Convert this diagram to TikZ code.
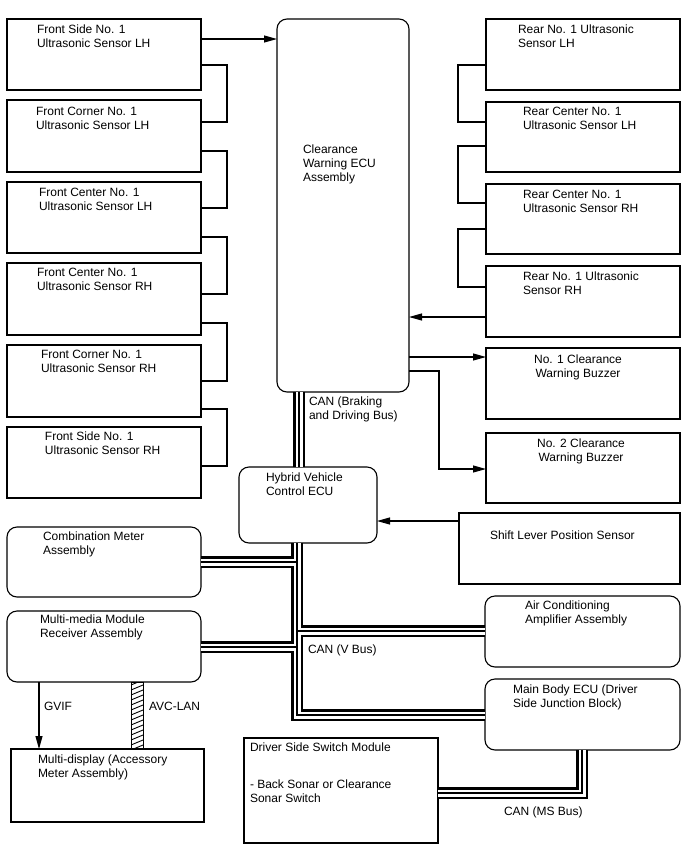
\documentclass[tikz,border=0pt]{standalone}
\usepackage{fontspec}
\setmainfont{Liberation Sans}
\usetikzlibrary{arrows.meta,calc}
\newcommand\mkbox[6]{%
  \node[#6, minimum width={#4pt-#2pt}, minimum height={#5pt-#3pt}] (#1) at ({(#2+#4)/2},{(#3+#5)/2}) {};}
\tikzset{
  sq/.style={draw, line width=1.1pt, inner sep=0pt, outer sep=0pt, rectangle},
  rd/.style={sq, rounded corners=10pt},
  txt/.style={anchor=north west, inner sep=0pt, outer sep=0pt, align=left, font=\fontsize{12}{14}\selectfont},
  ctxt/.style={anchor=north, inner sep=0pt, outer sep=0pt, align=center, font=\fontsize{12}{14}\selectfont},
  ln/.style={line width=1.1pt},
  arr/.style={line width=1.1pt, -{Triangle[length=13pt,width=7pt]}},
  busA/.style={line width=12pt, black, line join=miter},
  busB/.style={line width=7pt, white, line join=miter},
  busC/.style={line width=1.3pt, black, line join=miter},
}
\begin{document}
\begin{tikzpicture}[x=1pt,y=-1pt]
\fill[white] (0,0) rectangle (688,852);
\useasboundingbox (0,0) rectangle (688,852);

% left sensors
\mkbox{L1}{7}{19}{201}{90}{sq}
\mkbox{L2}{7}{100}{201}{172}{sq}
\mkbox{L3}{7}{182}{201}{253}{sq}
\mkbox{L4}{7}{263}{201}{335}{sq}
\mkbox{L5}{7}{345}{201}{417}{sq}
\mkbox{L6}{7}{427}{201}{498}{sq}
\node[txt] (L1t) at (37,25) {Front Side No. 1\\Ultrasonic Sensor LH};
\node[txt] (L2t) at (36,107) {Front Corner No. 1\\Ultrasonic Sensor LH};
\node[txt] (L3t) at (39,188) {Front Center No. 1\\Ultrasonic Sensor LH};
\node[txt] (L4t) at (37,268) {Front Center No. 1\\Ultrasonic Sensor RH};
\node[txt] (L5t) at (41,350) {Front Corner No. 1\\Ultrasonic Sensor RH};
\node[txt] (L6t) at (45,432) {Front Side No. 1\\Ultrasonic Sensor RH};

% right sensors / buzzers
\mkbox{R1}{486}{19}{680}{90}{sq}
\mkbox{R2}{486}{102}{680}{172}{sq}
\mkbox{R3}{486}{184}{680}{254}{sq}
\mkbox{R4}{486}{266}{680}{337}{sq}
\mkbox{B1}{486}{348}{680}{419}{sq}
\mkbox{B2}{486}{433}{680}{503}{sq}
\node[txt] (R1t) at (518,25) {Rear No. 1 Ultrasonic\\Sensor LH};
\node[txt] (R2t) at (523,107) {Rear Center No. 1\\Ultrasonic Sensor LH};
\node[txt] (R3t) at (523,190) {Rear Center No. 1\\Ultrasonic Sensor RH};
\node[txt] (R4t) at (523,272) {Rear No. 1 Ultrasonic\\Sensor RH};
\node[ctxt] (B1t) at (578,355) {No. 1 Clearance\\Warning Buzzer};
\node[ctxt] (B2t) at (581,439) {No. 2 Clearance\\Warning Buzzer};

% ECUs
\mkbox{ECU}{277}{19}{409}{392}{rd}
\node[txt] (ECUt) at (303,145) {Clearance\\Warning ECU\\Assembly};
\mkbox{Hyb}{239}{467}{377}{543}{rd}
\node[txt] (Hybt) at (266,473) {Hybrid Vehicle\\Control ECU};
\mkbox{Shift}{459}{513}{680}{584}{sq}
\node[txt] (Shiftt) at (490,531) {Shift Lever Position Sensor};
\mkbox{Comb}{7}{527}{201}{597}{rd}
\node[txt] (Combt) at (43,532) {Combination Meter\\Assembly};
\mkbox{MM}{7}{611}{201}{682}{rd}
\node[txt] (MMt) at (40,615) {Multi-media Module\\Receiver Assembly};
\mkbox{AC}{485}{596}{680}{667}{rd}
\node[txt] (ACt) at (525,601) {Air Conditioning\\Amplifier Assembly};
\mkbox{MB}{485}{679}{680}{750}{rd}
\node[txt] (MBt) at (513,685) {Main Body ECU (Driver\\Side Junction Block)};
\mkbox{MD}{11}{749}{204}{822}{sq}
\node[txt] (MDt) at (38,755) {Multi-display (Accessory\\Meter Assembly)};
\mkbox{DS}{244}{738}{438}{843}{sq}
\node[txt] (DSt) at (250,743) {Driver Side Switch Module\\[23pt]- Back Sonar or Clearance\\Sonar Switch};

% sensor chains
\draw[ln] (L1.east |- 0,65) -- (227,65) -- (227,122) -- (L2.east |- 0,122);
\draw[ln] (L2.east |- 0,151) -- (227,151) -- (227,208) -- (L3.east |- 0,208);
\draw[ln] (L3.east |- 0,237) -- (227,237) -- (227,294) -- (L4.east |- 0,294);
\draw[ln] (L4.east |- 0,323) -- (227,323) -- (227,381) -- (L5.east |- 0,381);
\draw[ln] (L5.east |- 0,409) -- (227,409) -- (227,466) -- (L6.east |- 0,466);
\draw[arr] (L1.east |- 0,39) -- (ECU.west |- 0,39);

\draw[ln] (R1.west |- 0,65) -- (458,65) -- (458,122) -- (R2.west |- 0,122);
\draw[ln] (R2.west |- 0,146) -- (458,146) -- (458,203) -- (R3.west |- 0,203);
\draw[ln] (R3.west |- 0,229) -- (458,229) -- (458,287) -- (R4.west |- 0,287);
\draw[arr] (R4.west |- 0,317) -- (ECU.east |- 0,317);
\draw[arr] (ECU.east |- 0,357) -- (B1.west |- 0,357);
\draw[arr] (ECU.east |- 0,371) -- (439,371) -- (439,469) -- (B2.west |- 0,469);
\draw[arr] (Shift.west |- 0,521) -- (Hyb.east |- 0,521);

% buses
\foreach \s in {busA,busB,busC}{
  \draw[\s] (ECU.south -| 299,0) -- (Hyb.north -| 299,0);
  \draw[\s] (Hyb.south -| 297,0) -- (297,715) -- (MB.west |- 0,715);
  \draw[\s] (297,562) -- (Comb.east |- 0,562);
  \draw[\s] (297,647) -- (MM.east |- 0,647);
  \draw[\s] (297,631) -- (AC.west |- 0,631);
  \draw[\s] (MB.south -| 582,0) -- (582,793) -- (DS.east |- 0,793);
}
\node[txt] (canbd) at (309,397) {CAN (Braking\\and Driving Bus)};
\node[txt] (canv) at (308,645) {CAN (V Bus)};
\node[txt] (canms) at (504,807) {CAN (MS Bus)};

% GVIF and AVC-LAN
\draw[arr] (MM.south -| 39,0) -- (MD.north -| 39,0);
\node[txt] (gvif) at (44,702) {GVIF};
\node[draw, line width=1pt, inner sep=0pt, outer sep=0pt, minimum width=12pt, minimum height=67pt] (AVC) at (137,715.5) {};
\begin{scope}
  \clip (AVC.south west) rectangle (AVC.north east);
  \foreach \k in {0,...,16} \draw[line width=0.9pt] (131,{680+\k*5}) -- (143,{675+\k*5});
\end{scope}
\node[txt] (avc) at (149,702) {AVC-LAN};
\end{tikzpicture}
\end{document}
